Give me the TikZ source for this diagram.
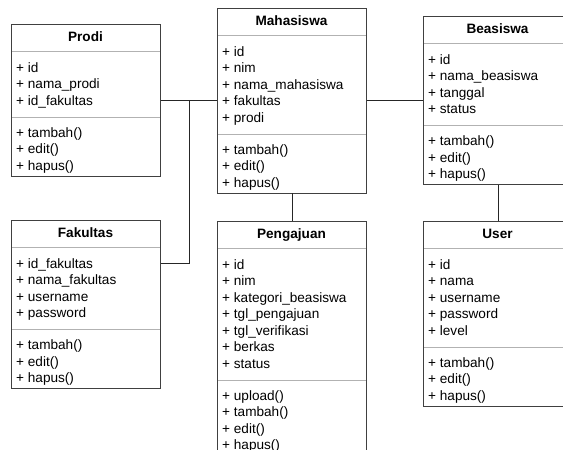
\documentclass[tikz,border=0pt]{standalone}
\usepackage{fontspec}
\setmainfont{Liberation Sans}
\usetikzlibrary{calc}

\tikzset{
  classbox/.style={draw=black!75, line width=0.9pt, minimum width=149pt, inner sep=0pt, anchor=north west},
  classtitle/.style={font=\fontsize{13.6pt}{16.5pt}\selectfont\bfseries, inner sep=0pt, text height=9.8pt, text depth=0pt},
  member/.style={font=\fontsize{13.6pt}{16.5pt}\selectfont, inner sep=0pt, anchor=west, text height=9.8pt, text depth=0pt},
  splitline/.style={draw=black!30, line width=0.9pt},
  link/.style={draw=black!85, line width=0.9pt}
}

% #1 name, #2/#3 top left corner, #4 title, #5 attributes, #6 operations
\newcommand{\umlclass}[6]{
\foreach \a [count=\i] in {#5} {
  \node[member] (#1-a\i) at (#2+5,#3+27+16.5*\i) {+ \a};
  \xdef\nattr{\i}
}
\pgfmathsetmacro\sepb{27+16.5*\nattr+16.5}
\foreach \o [count=\i] in {#6} {
  \node[member] (#1-o\i) at (#2+5,#3+\sepb-1+16.5*\i) {+ \o};
  \xdef\nops{\i}
}
\pgfmathsetmacro\boxh{\sepb+16.5*\nops+9}
\draw[splitline] (#2,#3+27) -- (#2+149,#3+27);
\draw[splitline] (#2,#3+\sepb) -- (#2+149,#3+\sepb);
\node[classbox, minimum height=\boxh pt] (#1) at (#2,#3) {};
\node[classtitle] (#1-title) at (#2+74.5,#3+13) {#4};
}

\begin{document}
\begin{tikzpicture}[x=1pt, y=-1pt]
\useasboundingbox (0,0) rectangle (563,450);
\clip (0,0) rectangle (563,450);

\umlclass{prodi}{11}{24}{Prodi}{id, nama\_prodi, id\_fakultas}{tambah(), edit(), hapus()}
\umlclass{maha}{217}{8}{Mahasiswa}{id, nim, nama\_mahasiswa, fakultas, prodi}{tambah(), edit(), hapus()}
\umlclass{beasiswa}{423}{16}{Beasiswa}{id, nama\_beasiswa, tanggal, status}{tambah(), edit(), hapus()}
\umlclass{fakultas}{11}{220}{Fakultas}{id\_fakultas, nama\_fakultas, username, password}{tambah(), edit(), hapus()}
\umlclass{pengajuan}{217}{221}{Pengajuan}{id, nim, kategori\_beasiswa, tgl\_pengajuan, tgl\_verifikasi, berkas, status}{upload(), tambah(), edit(), hapus()}
\umlclass{user}{423}{221}{User}{id, nama, username, password, level}{tambah(), edit(), hapus()}

\coordinate (j) at ($(prodi.east)!0.5!(maha.west)$);
\draw[link] (prodi.east) -- (prodi.east -| maha.west);
\draw[link] (fakultas.east |- fakultas-a1) -| (j);
\draw[link] (maha.east) -- (maha.east -| beasiswa.west);
\draw[link] (maha.south) -- (pengajuan.north);
\draw[link] (beasiswa.south) -- (user.north);
\end{tikzpicture}
\end{document}
